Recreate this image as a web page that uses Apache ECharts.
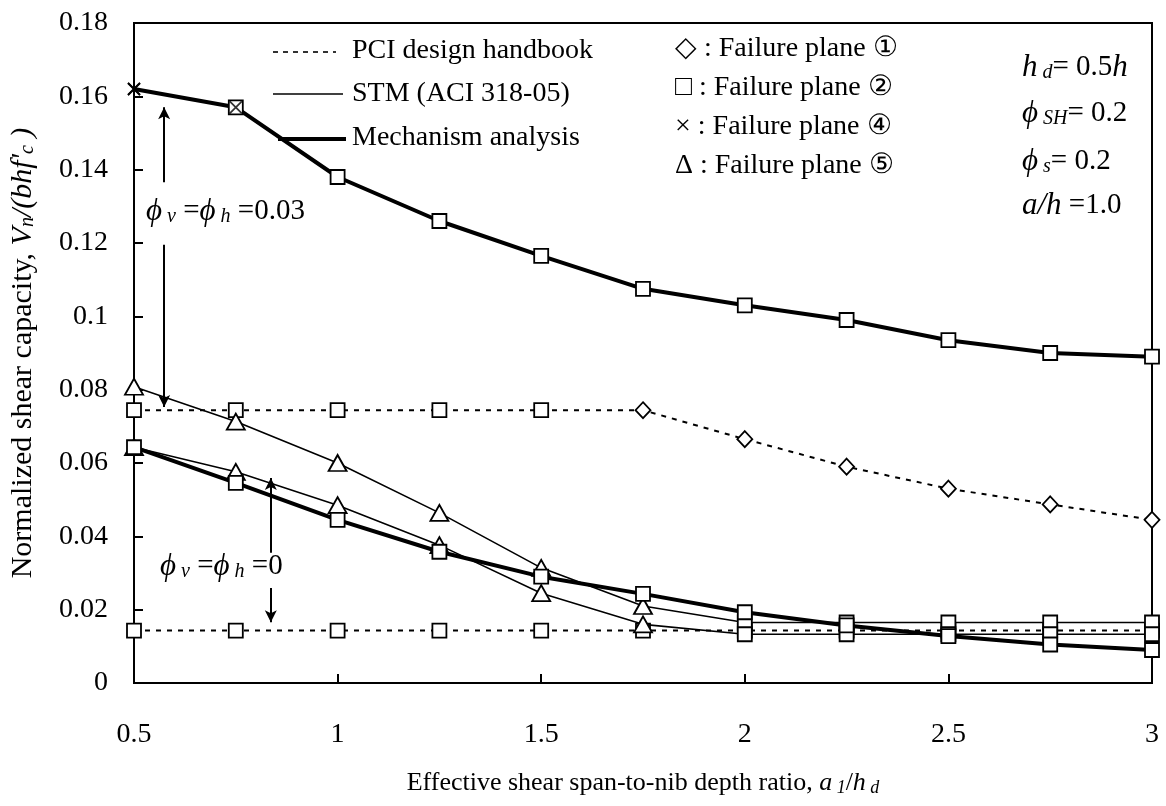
<!DOCTYPE html>
<html>
<head>
<meta charset="utf-8">
<script src="https://cdn.jsdelivr.net/npm/echarts@6/dist/echarts.min.js"></script>
<style>
html,body{margin:0;padding:0;background:#fff;}
#c{width:1166px;height:806px;}
</style>
</head>
<body>
<div id="c"></div>
<script>
// ---- data ----
const xs = [0.5, 0.75, 1, 1.25, 1.5, 1.75, 2, 2.25, 2.5, 2.75, 3];
const xTicks = [0.5, 1, 1.5, 2, 2.5, 3];
const yTicks = [0, 0.02, 0.04, 0.06, 0.08, 0.1, 0.12, 0.14, 0.16, 0.18];

const mechHigh = [0.162, 0.157, 0.138, 0.126, 0.1165, 0.1075, 0.103, 0.099, 0.0935, 0.090, 0.089];
const mechHighMarks = ['x', 'sq', 'sq', 'sq', 'sq', 'sq', 'sq', 'sq', 'sq', 'sq', 'sq'];
const pciHigh = [0.0744, 0.0744, 0.0744, 0.0744, 0.0744, 0.0744, 0.0665, 0.059, 0.053, 0.0487, 0.0445];
const pciHighMarks = ['sq', 'sq', 'sq', 'sq', 'sq', 'dia', 'dia', 'dia', 'dia', 'dia', 'dia'];
const stmHigh = [0.0808, 0.0713, 0.060, 0.0464, 0.0314, 0.021, 0.0165, 0.0165, 0.0165, 0.0165, 0.0165];
const stmHighMarks = ['tri', 'tri', 'tri', 'tri', 'tri', 'tri', 'sq', 'sq', 'sq', 'sq', 'sq'];

const mechLow = [0.0643, 0.0546, 0.0445, 0.0358, 0.029, 0.0243, 0.0193, 0.0157, 0.0128, 0.0105, 0.009];
const mechLowMarks = ['sq', 'sq', 'sq', 'sq', 'sq', 'sq', 'sq', 'sq', 'sq', 'sq', 'sq'];
const stmLow = [0.0643, 0.0576, 0.0485, 0.0376, 0.0245, 0.016, 0.0133, 0.0133, 0.0133, 0.0133, 0.0133];
const stmLowMarks = ['tri', 'tri', 'tri', 'tri', 'tri', 'tri', 'sq', 'sq', 'sq', 'sq', 'sq'];
const pciLow = [0.0143, 0.0143, 0.0143, 0.0143, 0.0143, 0.0143, 0.0143, 0.0143, 0.0143, 0.0143, 0.0143];
const pciLowMarks = ['sq', 'sq', 'sq', 'sq', 'sq', 'sq', 'sq', 'sq', 'sq', 'sq', 'sq'];

// extra failure-plane-4 crosses
const crossX = [0.5, 0.75];
const crossY = [0.162, 0.157];

// annotation arrows [x, yFrom, yTo]
const arrowsData = [
  [0.574, 0.1366, 0.157],
  [0.574, 0.1195, 0.0753],
  [0.836, 0.0355, 0.0559],
  [0.836, 0.0259, 0.0166]
];

// ---- style helpers ----
const FONT = '"Liberation Serif", "Times New Roman", serif';
const SYM = {
  sq: {symbol: 'rect', symbolSize: 14},
  tri: {symbol: 'triangle', symbolSize: [18, 16]},
  dia: {symbol: 'diamond', symbolSize: [15, 16]},
  x: {symbol: 'path://M0,0L10,10M10,0L0,10', symbolSize: 12}
};
function pts(vals, marks) {
  return vals.map((v, i) => Object.assign({value: [xs[i], v]}, SYM[marks[i]]));
}
function lineSeries(name, vals, marks, width, type, z) {
  return {
    name: name, type: 'line', data: pts(vals, marks),
    lineStyle: {color: '#000', width: width, type: type},
    itemStyle: {color: '#fff', borderColor: '#000', borderWidth: 1.8},
    showAllSymbol: true, animation: false, z: z
  };
}

const chart = echarts.init(document.getElementById('c'), null, {renderer: 'canvas'});

const series = [
  lineSeries('PCI design handbook', pciHigh, pciHighMarks, 2, [5, 6], 2),
  lineSeries('PCI design handbook', pciLow, pciLowMarks, 2, [5, 6], 2),
  lineSeries('STM (ACI 318-05)', stmHigh, stmHighMarks, 1.6, 'solid', 3),
  lineSeries('STM (ACI 318-05)', stmLow, stmLowMarks, 1.6, 'solid', 3),
  lineSeries('Mechanism analysis', mechHigh, mechHighMarks, 4, 'solid', 4),
  lineSeries('Mechanism analysis', mechLow, mechLowMarks, 4, 'solid', 4),
  {
    type: 'scatter', data: crossX.map((x, i) => [x, crossY[i]]),
    symbol: SYM.x.symbol, symbolSize: 12,
    itemStyle: {color: 'none', borderColor: '#000', borderWidth: 1.8}, z: 6, animation: false
  },
  {
    type: 'line', data: [], animation: false,
    markLine: {
      silent: true, symbol: ['none', 'arrow'], symbolSize: [9, 12],
      lineStyle: {color: '#000', width: 2, type: 'solid'},
      label: {show: false},
      data: arrowsData.map(a => [{coord: [a[0], a[1]]}, {coord: [a[0], a[2]]}])
    }
  }
];

const subI = {fontFamily: FONT, fontSize: 20, fontStyle: 'italic', padding: [10, 0, 0, 0]};

function txt(x, y, text, rich, size) {
  return {
    type: 'text', left: x, top: y,
    style: {text: text, font: (size || 28) + 'px ' + FONT, fill: '#000', rich: rich || {}}
  };
}
const annRich = {
  i: {fontFamily: FONT, fontSize: 31, fontStyle: 'italic'},
  s: subI,
  n: {fontFamily: FONT, fontSize: 29}
};

const option = {
  backgroundColor: '#fff',
  animation: false,
  grid: {left: 133, right: 14, top: 23, bottom: 123, show: true, borderColor: '#000', borderWidth: 2, backgroundColor: 'transparent'},
  xAxis: {
    type: 'value', min: xTicks[0], max: xTicks[xTicks.length - 1], interval: 0.5,
    axisLine: {show: true, lineStyle: {color: '#000', width: 2}},
    axisTick: {show: true, inside: true, length: 9, lineStyle: {color: '#000', width: 2}},
    splitLine: {show: false},
    axisLabel: {color: '#000', fontFamily: FONT, fontSize: 28, margin: 38},
    name: '{n|Effective shear span-to-nib depth ratio, }{i|a}{s| 1}{n|/}{i|h}{s| d}',
    nameLocation: 'middle', nameGap: 86,
    nameTextStyle: {
      color: '#000', fontFamily: FONT, fontSize: 26,
      rich: {n: {fontFamily: FONT, fontSize: 26}, i: {fontFamily: FONT, fontSize: 26, fontStyle: 'italic'}, s: {fontFamily: FONT, fontSize: 18, fontStyle: 'italic', padding: [10, 0, 0, 0]}}
    }
  },
  yAxis: {
    type: 'value', min: yTicks[0], max: yTicks[yTicks.length - 1], interval: 0.02,
    axisLine: {show: true, lineStyle: {color: '#000', width: 2}},
    axisTick: {show: true, inside: true, length: 9, lineStyle: {color: '#000', width: 2}},
    splitLine: {show: false},
    axisLabel: {color: '#000', fontFamily: FONT, fontSize: 28, margin: 26,
      formatter: v => String(Math.round(v * 100) / 100)},
    name: '{n|Normalized shear capacity, }{i|V}{s|n}{i|/(bhf\'}{s|c}{i| )}',
    nameLocation: 'middle', nameGap: 96,
    nameTextStyle: {
      color: '#000', fontFamily: FONT, fontSize: 30,
      rich: {n: {fontFamily: FONT, fontSize: 30}, i: {fontFamily: FONT, fontSize: 30, fontStyle: 'italic'}, s: {fontFamily: FONT, fontSize: 20, fontStyle: 'italic', padding: [10, 0, 0, 0]}}
    }
  },
  graphic: [
    // line legend
    {type: 'line', shape: {x1: 273, y1: 52, x2: 336, y2: 52}, style: {stroke: '#000', lineWidth: 1.6, lineDash: [5, 5]}},
    {type: 'line', shape: {x1: 273, y1: 94, x2: 343, y2: 94}, style: {stroke: '#000', lineWidth: 1.6}},
    {type: 'line', shape: {x1: 278, y1: 139, x2: 346, y2: 139}, style: {stroke: '#000', lineWidth: 4}},
    txt(352, 37, 'PCI design handbook'),
    txt(352, 80, 'STM (ACI 318-05)'),
    txt(352, 124, 'Mechanism analysis'),
    // marker legend
    txt(675, 35, '◇ : Failure plane ①'),
    txt(675, 74, '□ : Failure plane ②'),
    txt(675, 113, '× : Failure plane ④'),
    txt(675, 152, 'Δ : Failure plane ⑤'),
    // parameters
    txt(1022, 52, '{i|h}{s| d}{n|= 0.5}{i|h}', annRich),
    txt(1022, 98, '{i|ϕ}{s| SH}{n|= 0.2}', annRich),
    txt(1022, 146, '{i|ϕ}{s| s}{n|= 0.2}', annRich),
    txt(1022, 190, '{i|a/h}{n| =1.0}', annRich),
    // annotations
    txt(146, 196, '{i|ϕ}{s| v}{n| =}{i|ϕ}{s| h}{n| =0.03}', annRich),
    txt(160, 551, '{i|ϕ}{s| v}{n| =}{i|ϕ}{s| h}{n| =0}', annRich)
  ],
  series: series
};
chart.setOption(option);
</script>
</body>
</html>
